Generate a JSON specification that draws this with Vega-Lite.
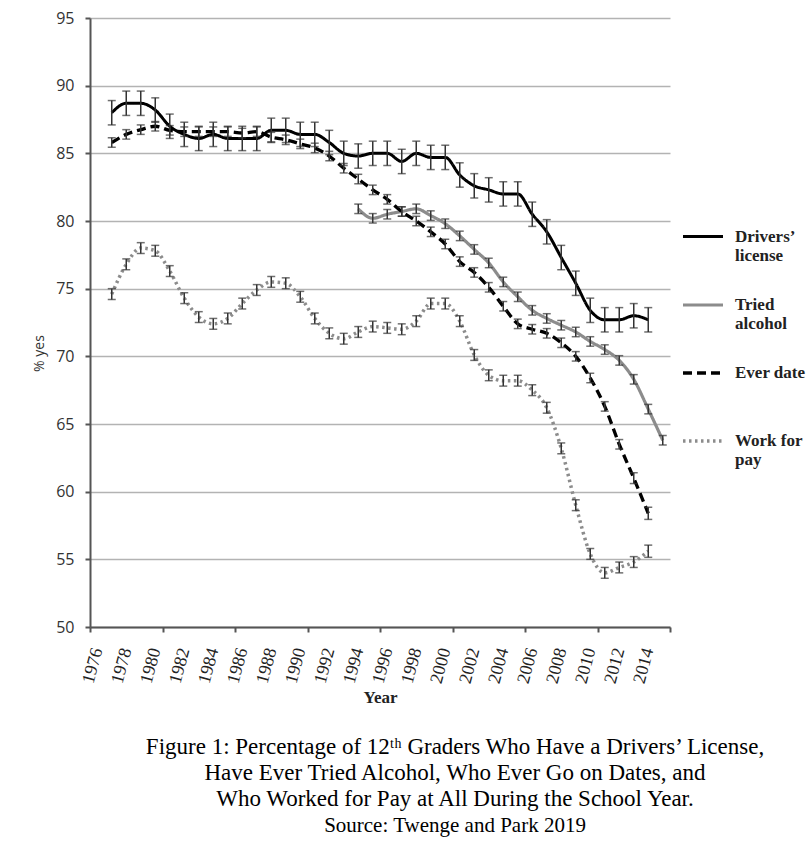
{
  "$schema": "https://vega.github.io/schema/vega-lite/v6.json",
  "width": 580,
  "height": 609,
  "autosize": {"type": "none"},
  "padding": {"left": 90, "top": 18, "right": 141, "bottom": 225},
  "background": "white",
  "config": {"view": {"stroke": null}},
  "title": {
    "text": ["Figure 1: Percentage of 12ᵗʰ Graders Who Have a Drivers’ License,", "Have Ever Tried Alcohol, Who Ever Go on Dates, and", "Who Worked for Pay at All During the School Year."],
    "subtitle": "Source: Twenge and Park 2019",
    "orient": "bottom",
    "anchor": "middle",
    "frame": "group",
    "dx": 75,
    "offset": 31,
    "font": "Liberation Serif",
    "fontSize": 23,
    "fontWeight": "normal",
    "lineHeight": 26,
    "color": "#000",
    "subtitleFont": "Liberation Serif",
    "subtitleFontSize": 21,
    "subtitleFontStyle": "normal",
    "subtitleLineHeight": 26,
    "subtitleColor": "#000",
    "subtitlePadding": 4
  },
  "data": {"values": [
    {"year": 1977, "series": "Drivers’ license", "value": 88.0, "err": 0.9},
    {"year": 1978, "series": "Drivers’ license", "value": 88.7, "err": 0.9},
    {"year": 1979, "series": "Drivers’ license", "value": 88.7, "err": 0.9},
    {"year": 1980, "series": "Drivers’ license", "value": 88.2, "err": 0.9},
    {"year": 1981, "series": "Drivers’ license", "value": 87.0, "err": 0.9},
    {"year": 1982, "series": "Drivers’ license", "value": 86.4, "err": 0.9},
    {"year": 1983, "series": "Drivers’ license", "value": 86.1, "err": 0.9},
    {"year": 1984, "series": "Drivers’ license", "value": 86.4, "err": 0.9},
    {"year": 1985, "series": "Drivers’ license", "value": 86.1, "err": 0.9},
    {"year": 1986, "series": "Drivers’ license", "value": 86.1, "err": 0.9},
    {"year": 1987, "series": "Drivers’ license", "value": 86.1, "err": 0.9},
    {"year": 1988, "series": "Drivers’ license", "value": 86.7, "err": 0.9},
    {"year": 1989, "series": "Drivers’ license", "value": 86.7, "err": 0.9},
    {"year": 1990, "series": "Drivers’ license", "value": 86.4, "err": 0.9},
    {"year": 1991, "series": "Drivers’ license", "value": 86.4, "err": 0.9},
    {"year": 1992, "series": "Drivers’ license", "value": 85.8, "err": 0.9},
    {"year": 1993, "series": "Drivers’ license", "value": 85.0, "err": 0.9},
    {"year": 1994, "series": "Drivers’ license", "value": 84.8, "err": 0.9},
    {"year": 1995, "series": "Drivers’ license", "value": 85.0, "err": 0.9},
    {"year": 1996, "series": "Drivers’ license", "value": 85.0, "err": 0.9},
    {"year": 1997, "series": "Drivers’ license", "value": 84.4, "err": 0.9},
    {"year": 1998, "series": "Drivers’ license", "value": 85.0, "err": 0.9},
    {"year": 1999, "series": "Drivers’ license", "value": 84.7, "err": 0.9},
    {"year": 2000, "series": "Drivers’ license", "value": 84.7, "err": 0.9},
    {"year": 2001, "series": "Drivers’ license", "value": 83.4, "err": 0.9},
    {"year": 2002, "series": "Drivers’ license", "value": 82.6, "err": 0.9},
    {"year": 2003, "series": "Drivers’ license", "value": 82.3, "err": 0.9},
    {"year": 2004, "series": "Drivers’ license", "value": 82.0, "err": 0.9},
    {"year": 2005, "series": "Drivers’ license", "value": 82.0, "err": 0.9},
    {"year": 2006, "series": "Drivers’ license", "value": 80.5, "err": 0.9},
    {"year": 2007, "series": "Drivers’ license", "value": 79.2, "err": 0.9},
    {"year": 2008, "series": "Drivers’ license", "value": 77.3, "err": 0.9},
    {"year": 2009, "series": "Drivers’ license", "value": 75.4, "err": 0.9},
    {"year": 2010, "series": "Drivers’ license", "value": 73.4, "err": 0.9},
    {"year": 2011, "series": "Drivers’ license", "value": 72.7, "err": 0.9},
    {"year": 2012, "series": "Drivers’ license", "value": 72.7, "err": 0.9},
    {"year": 2013, "series": "Drivers’ license", "value": 73.0, "err": 0.9},
    {"year": 2014, "series": "Drivers’ license", "value": 72.7, "err": 0.9},

    {"year": 1994, "series": "Tried alcohol", "value": 80.9, "err": 0.35},
    {"year": 1995, "series": "Tried alcohol", "value": 80.2, "err": 0.35},
    {"year": 1996, "series": "Tried alcohol", "value": 80.5, "err": 0.35},
    {"year": 1997, "series": "Tried alcohol", "value": 80.7, "err": 0.35},
    {"year": 1998, "series": "Tried alcohol", "value": 80.9, "err": 0.35},
    {"year": 1999, "series": "Tried alcohol", "value": 80.4, "err": 0.35},
    {"year": 2000, "series": "Tried alcohol", "value": 79.8, "err": 0.35},
    {"year": 2001, "series": "Tried alcohol", "value": 78.9, "err": 0.35},
    {"year": 2002, "series": "Tried alcohol", "value": 77.9, "err": 0.35},
    {"year": 2003, "series": "Tried alcohol", "value": 76.9, "err": 0.35},
    {"year": 2004, "series": "Tried alcohol", "value": 75.5, "err": 0.35},
    {"year": 2005, "series": "Tried alcohol", "value": 74.4, "err": 0.35},
    {"year": 2006, "series": "Tried alcohol", "value": 73.4, "err": 0.35},
    {"year": 2007, "series": "Tried alcohol", "value": 72.8, "err": 0.35},
    {"year": 2008, "series": "Tried alcohol", "value": 72.3, "err": 0.35},
    {"year": 2009, "series": "Tried alcohol", "value": 71.8, "err": 0.35},
    {"year": 2010, "series": "Tried alcohol", "value": 71.1, "err": 0.35},
    {"year": 2011, "series": "Tried alcohol", "value": 70.5, "err": 0.35},
    {"year": 2012, "series": "Tried alcohol", "value": 69.7, "err": 0.35},
    {"year": 2013, "series": "Tried alcohol", "value": 68.3, "err": 0.35},
    {"year": 2014, "series": "Tried alcohol", "value": 66.1, "err": 0.35},
    {"year": 2015, "series": "Tried alcohol", "value": 63.8, "err": 0.35},

    {"year": 1977, "series": "Ever date", "value": 85.8, "err": 0.35},
    {"year": 1978, "series": "Ever date", "value": 86.4, "err": 0.35},
    {"year": 1979, "series": "Ever date", "value": 86.75, "err": 0.35},
    {"year": 1980, "series": "Ever date", "value": 87.0, "err": 0.35},
    {"year": 1981, "series": "Ever date", "value": 86.7, "err": 0.35},
    {"year": 1982, "series": "Ever date", "value": 86.6, "err": 0.35},
    {"year": 1983, "series": "Ever date", "value": 86.6, "err": 0.35},
    {"year": 1984, "series": "Ever date", "value": 86.6, "err": 0.35},
    {"year": 1985, "series": "Ever date", "value": 86.6, "err": 0.35},
    {"year": 1986, "series": "Ever date", "value": 86.5, "err": 0.35},
    {"year": 1987, "series": "Ever date", "value": 86.6, "err": 0.35},
    {"year": 1988, "series": "Ever date", "value": 86.2, "err": 0.35},
    {"year": 1989, "series": "Ever date", "value": 86.0, "err": 0.35},
    {"year": 1990, "series": "Ever date", "value": 85.7, "err": 0.35},
    {"year": 1991, "series": "Ever date", "value": 85.4, "err": 0.35},
    {"year": 1992, "series": "Ever date", "value": 84.8, "err": 0.35},
    {"year": 1993, "series": "Ever date", "value": 83.9, "err": 0.35},
    {"year": 1994, "series": "Ever date", "value": 83.1, "err": 0.35},
    {"year": 1995, "series": "Ever date", "value": 82.3, "err": 0.35},
    {"year": 1996, "series": "Ever date", "value": 81.6, "err": 0.35},
    {"year": 1997, "series": "Ever date", "value": 80.7, "err": 0.35},
    {"year": 1998, "series": "Ever date", "value": 80.0, "err": 0.35},
    {"year": 1999, "series": "Ever date", "value": 79.2, "err": 0.35},
    {"year": 2000, "series": "Ever date", "value": 78.3, "err": 0.35},
    {"year": 2001, "series": "Ever date", "value": 77.0, "err": 0.35},
    {"year": 2002, "series": "Ever date", "value": 76.2, "err": 0.35},
    {"year": 2003, "series": "Ever date", "value": 75.1, "err": 0.35},
    {"year": 2004, "series": "Ever date", "value": 73.7, "err": 0.35},
    {"year": 2005, "series": "Ever date", "value": 72.4, "err": 0.35},
    {"year": 2006, "series": "Ever date", "value": 72.0, "err": 0.35},
    {"year": 2007, "series": "Ever date", "value": 71.7, "err": 0.35},
    {"year": 2008, "series": "Ever date", "value": 71.0, "err": 0.35},
    {"year": 2009, "series": "Ever date", "value": 70.0, "err": 0.35},
    {"year": 2010, "series": "Ever date", "value": 68.4, "err": 0.35},
    {"year": 2011, "series": "Ever date", "value": 66.3, "err": 0.35},
    {"year": 2012, "series": "Ever date", "value": 63.5, "err": 0.35},
    {"year": 2013, "series": "Ever date", "value": 61.0, "err": 0.4},
    {"year": 2014, "series": "Ever date", "value": 58.4, "err": 0.45},

    {"year": 1977, "series": "Work for pay", "value": 74.6, "err": 0.4},
    {"year": 1978, "series": "Work for pay", "value": 76.8, "err": 0.4},
    {"year": 1979, "series": "Work for pay", "value": 78.0, "err": 0.4},
    {"year": 1980, "series": "Work for pay", "value": 77.8, "err": 0.4},
    {"year": 1981, "series": "Work for pay", "value": 76.3, "err": 0.4},
    {"year": 1982, "series": "Work for pay", "value": 74.3, "err": 0.4},
    {"year": 1983, "series": "Work for pay", "value": 72.9, "err": 0.4},
    {"year": 1984, "series": "Work for pay", "value": 72.4, "err": 0.4},
    {"year": 1985, "series": "Work for pay", "value": 72.8, "err": 0.4},
    {"year": 1986, "series": "Work for pay", "value": 73.9, "err": 0.4},
    {"year": 1987, "series": "Work for pay", "value": 74.9, "err": 0.4},
    {"year": 1988, "series": "Work for pay", "value": 75.5, "err": 0.4},
    {"year": 1989, "series": "Work for pay", "value": 75.4, "err": 0.4},
    {"year": 1990, "series": "Work for pay", "value": 74.4, "err": 0.4},
    {"year": 1991, "series": "Work for pay", "value": 72.8, "err": 0.4},
    {"year": 1992, "series": "Work for pay", "value": 71.7, "err": 0.4},
    {"year": 1993, "series": "Work for pay", "value": 71.3, "err": 0.4},
    {"year": 1994, "series": "Work for pay", "value": 71.8, "err": 0.4},
    {"year": 1995, "series": "Work for pay", "value": 72.2, "err": 0.4},
    {"year": 1996, "series": "Work for pay", "value": 72.1, "err": 0.4},
    {"year": 1997, "series": "Work for pay", "value": 72.0, "err": 0.4},
    {"year": 1998, "series": "Work for pay", "value": 72.6, "err": 0.4},
    {"year": 1999, "series": "Work for pay", "value": 73.9, "err": 0.4},
    {"year": 2000, "series": "Work for pay", "value": 73.9, "err": 0.4},
    {"year": 2001, "series": "Work for pay", "value": 72.6, "err": 0.4},
    {"year": 2002, "series": "Work for pay", "value": 70.1, "err": 0.4},
    {"year": 2003, "series": "Work for pay", "value": 68.6, "err": 0.4},
    {"year": 2004, "series": "Work for pay", "value": 68.2, "err": 0.4},
    {"year": 2005, "series": "Work for pay", "value": 68.2, "err": 0.4},
    {"year": 2006, "series": "Work for pay", "value": 67.5, "err": 0.4},
    {"year": 2007, "series": "Work for pay", "value": 66.2, "err": 0.4},
    {"year": 2008, "series": "Work for pay", "value": 63.2, "err": 0.4},
    {"year": 2009, "series": "Work for pay", "value": 59.0, "err": 0.4},
    {"year": 2010, "series": "Work for pay", "value": 55.4, "err": 0.4},
    {"year": 2011, "series": "Work for pay", "value": 54.0, "err": 0.4},
    {"year": 2012, "series": "Work for pay", "value": 54.4, "err": 0.4},
    {"year": 2013, "series": "Work for pay", "value": 54.8, "err": 0.4},
    {"year": 2014, "series": "Work for pay", "value": 55.6, "err": 0.45}
  ]},
  "encoding": {
    "x": {
      "field": "year", "type": "quantitative",
      "scale": {"domain": [1975.5, 2015.5], "nice": false, "zero": false},
      "axis": {
        "title": "Year",
        "values": [1975.5, 1976, 1978, 1980, 1980.5, 1982, 1984, 1985.5, 1986, 1988, 1990, 1990.5, 1992, 1994, 1995.5, 1996, 1998, 2000, 2000.5, 2002, 2004, 2005.5, 2006, 2008, 2010, 2010.5, 2012, 2014, 2015.5],
        "labelExpr": "datum.value % 1 == 0 ? datum.value + '' : ''",
        "labelAngle": -75,
        "labelAlign": "right",
        "labelBaseline": "middle",
        "labelFont": "Liberation Serif",
        "labelFontSize": 18,
        "labelColor": "#222",
        "labelPadding": 16,
        "labelOverlap": false,
        "labelBound": false,
        "labelFlush": false,
        "tickSize": 5,
        "tickWidth": 2,
        "tickColor": "#555",
        "tickOpacity": {"condition": {"test": "datum.value % 1 != 0", "value": 1}, "value": 0},
        "domainColor": "#555",
        "domainWidth": 2,
        "grid": false,
        "titleFont": "Liberation Serif",
        "titleFontWeight": "bold",
        "titleFontSize": 17,
        "titleColor": "#222",
        "titlePadding": 4
      }
    },
    "y": {
      "field": "value", "type": "quantitative",
      "scale": {"domain": [50, 95], "nice": false, "zero": false},
      "axis": {
        "title": "% yes",
        "values": [50, 55, 60, 65, 70, 75, 80, 85, 90, 95],
        "grid": true,
        "gridColor": "#b3b3b3",
        "gridWidth": 1.5,
        "domainColor": "#555",
        "domainWidth": 2,
        "tickColor": "#555",
        "tickWidth": 2,
        "tickSize": 5,
        "labelFont": "Open Sans",
        "labelFontSize": 16,
        "labelColor": "#333",
        "labelPadding": 11,
        "titleFont": "Open Sans",
        "titleFontSize": 14,
        "titleFontWeight": "normal",
        "titleColor": "#333",
        "titleX": -44,
        "titleY": 335
      }
    }
  },
  "layer": [
    {
      "mark": {"type": "line", "interpolate": "monotone"},
      "encoding": {
        "stroke": {
          "field": "series", "type": "nominal",
          "scale": {"domain": ["Drivers’ license", "Tried alcohol", "Ever date", "Work for pay"], "range": ["#000000", "#8c8c8c", "#000000", "#8c8c8c"]},
          "legend": {
            "title": null,
            "orient": "none",
            "legendX": 591,
            "legendY": 197,
            "symbolType": "stroke",
            "symbolSize": 1600,
            "symbolStrokeWidth": 3,
            "labelFont": "Liberation Serif",
            "labelFontWeight": "bold",
            "labelFontSize": 17,
            "labelColor": "#222",
            "labelOffset": 10,
            "labelBaseline": "top",
            "labelExpr": "datum.label == 'Ever date' ? ['Ever date', ' '] : datum.label == 'Work for pay' ? ['Work for', 'pay'] : split(datum.label, ' ')",
            "rowPadding": 19,
            "encode": {"labels": {"update": {"dy": {"value": -8}}}}
          }
        },
        "strokeDash": {
          "field": "series", "type": "nominal",
          "scale": {"domain": ["Drivers’ license", "Tried alcohol", "Ever date", "Work for pay"], "range": [[1, 0], [1, 0], [9, 5], [2.5, 3.5]]}
        },
        "strokeWidth": {
          "field": "series", "type": "nominal",
          "scale": {"domain": ["Drivers’ license", "Tried alcohol", "Ever date", "Work for pay"], "range": [3, 3.5, 3.5, 2.5]}
        }
      }
    },
    {
      "mark": {"type": "errorbar", "ticks": {"size": 8}, "color": "#333", "thickness": 1.5},
      "encoding": {
        "yError": {"field": "err"}
      }
    }
  ]
}
